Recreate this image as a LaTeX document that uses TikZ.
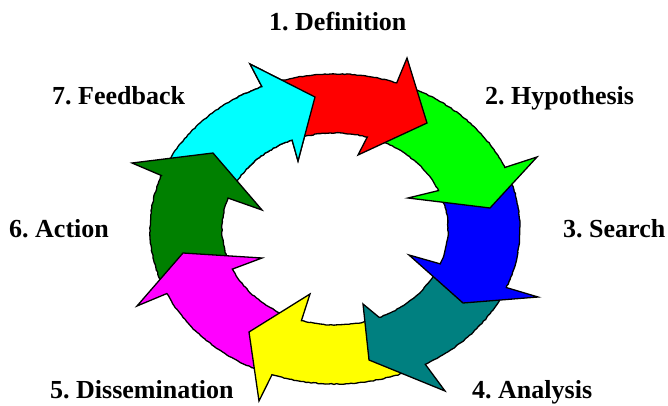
\documentclass[tikz,border=0pt]{standalone}
\usepackage{fontspec}
\setmainfont{Liberation Serif}
\usetikzlibrary{decorations.pathmorphing}

\definecolor{arRed}{RGB}{255,0,0}
\definecolor{arGreen}{RGB}{0,255,0}
\definecolor{arBlue}{RGB}{0,0,255}
\definecolor{arTeal}{RGB}{0,128,128}
\definecolor{arYellow}{RGB}{255,255,0}
\definecolor{arMagenta}{RGB}{255,0,255}
\definecolor{arDkGreen}{RGB}{0,128,0}
\definecolor{arCyan}{RGB}{0,255,255}

\tikzset{
  ring arrow/.style={draw=black, line width=1.3pt, line join=miter, fill=#1},
  rough/.style={decorate, decoration={random steps, segment length=2.5pt, amplitude=0.45pt}},
  stage label/.style={anchor=base west, inner sep=0pt,
    font=\fontsize{26}{30}\selectfont\bfseries},
}

% One curved block arrow of the ring:
% #1 fill, #2 tail angle (outer), #3 outer notch angle, #4 outer wing,
% #5 tip, #6 inner wing, #7 inner notch angle, #8 tail angle (inner)
\newcommand\ringarrow[8]{%
  \path[ring arrow=#1] (#2:185 and 155)
    decorate[rough]{arc[start angle=#2, end angle=#3, x radius=185, y radius=155]}
    -- #4 -- #5 -- #6 -- (#7:113 and 96)
    decorate[rough]{arc[start angle=#7, end angle=#8, x radius=113, y radius=96]}
    -- cycle;}
\newcommand\cyanarrow{%
  \ringarrow{arCyan}{-203.2}{-246.7}{(-85,165)}{(-20,132)}{(-37,68)}{-247.7}{-201.8}}

\begin{document}
\frenchspacing
\begin{tikzpicture}[x=1pt, y=1pt]
  \useasboundingbox (0,0) rectangle (668,405);

  \begin{scope}[shift={(335,176)}]
    % each head lies over the tail of the following arrow,
    % so the arrows are laid down against the clockwise order
    \pgfmathsetseed{11}
    \cyanarrow
    \ringarrow{arDkGreen}{-158.4}{-200.2}{(-203,66)}{(-122,76)}{(-73,19)}{-198.8}{-158.3}
    \ringarrow{arMagenta}{-112.9}{-155.4}{(-198,-77)}{(-152,-24)}{(-73,-29)}{-155.3}{-110.3}
    \ringarrow{arYellow}{-63.8}{-109.9}{(-76,-172)}{(-86,-103)}{(-25,-65)}{-107.3}{-70.0}
    \ringarrow{arTeal}{-25.2}{-60.8}{(110,-162)}{(34,-131)}{(28,-75)}{-67.0}{-24.3}
    \ringarrow{arBlue}{20.4}{-22.2}{(203,-68)}{(128,-74)}{(74,-26)}{-21.3}{20.6}
    \ringarrow{arGreen}{67.5}{23.4}{(202,72)}{(155,21)}{(73,31)}{23.6}{70.4}
    \ringarrow{arRed}{110.3}{70.5}{(72,171)}{(92,106)}{(23,74)}{73.4}{109.3}
    % the cyan head closes the ring over the red tail
    \begin{scope}
      \clip (-100,60) rectangle (2,200);
      \pgfmathsetseed{11}
      \cyanarrow
    \end{scope}
  \end{scope}

  \node[stage label] (l1) at (269,374) {1. Definition};
  \node[stage label] (l2) at (485,301) {2. Hypothesis};
  \node[stage label] (l3) at (563,168) {3. Search};
  \node[stage label] (l4) at (472,7)   {4. Analysis};
  \node[stage label] (l5) at (50,7)    {5. Dissemination};
  \node[stage label] (l6) at (9,168)   {6. Action};
  \node[stage label] (l7) at (52,301)  {7. Feedback};
\end{tikzpicture}
\end{document}
